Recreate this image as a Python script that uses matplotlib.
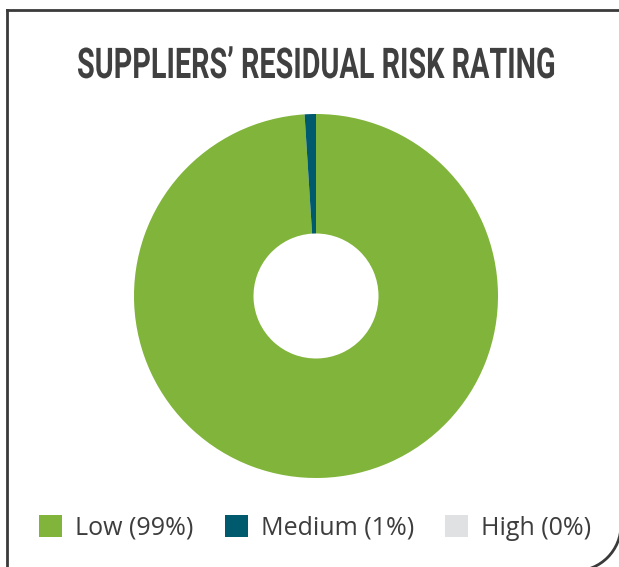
import matplotlib
matplotlib.use('Agg')
import matplotlib.pyplot as plt
from matplotlib.patches import Arc
from matplotlib.patheffects import AbstractPathEffect
from matplotlib.transforms import Affine2D

# Data
categories = ['Low', 'Medium', 'High']
shares = [99, 1, 0]
colors = ['#80B43A', '#005A6E', '#E0E1E3']
title = 'SUPPLIERS\u2019 RESIDUAL RISK RATING'

TEXT = '#3D3D3D'
W, H = 619, 567


class Stretch(AbstractPathEffect):
    """Rescale glyphs around a fixed anchor (display px) to mimic a condensed face."""
    def __init__(self, cx, cy, sx, sy):
        super().__init__()
        self.cx, self.cy, self.sx, self.sy = cx, cy, sx, sy

    def draw_path(self, renderer, gc, tpath, affine, rgbFace=None):
        tr = (Affine2D().translate(-self.cx, -self.cy)
              .scale(self.sx, self.sy).translate(self.cx, self.cy))
        renderer.draw_path(gc, tpath, affine + tr, rgbFace)


fig = plt.figure(figsize=(W / 100, H / 100), dpi=100)
fig.patch.set_facecolor('white')

# frame drawn in pixel units (y downwards)
bg = fig.add_axes([0, 0, 1, 1])
bg.set_xlim(0, W)
bg.set_ylim(H, 0)
bg.axis('off')
bg.plot([7, W + 5], [10, 10], color='#3A3A3A', lw=2.0, solid_capstyle='projecting')
bg.plot([7, 7], [10, H + 5], color='#3A3A3A', lw=2.0, solid_capstyle='projecting')
bg.add_patch(Arc((575, 525), 92, 92, theta1=0, theta2=90, color='#3A3A3A', lw=2.0))

# donut: centre (316, 296) px, outer radius 182 px
r = 182
cx, cy = 316, H - 296
side = 2.5 * r
ax = fig.add_axes([(cx - side / 2) / W, (cy - side / 2) / H, side / W, side / H])
wedges, _ = ax.pie(shares, colors=colors, startangle=90, counterclock=False,
                   wedgeprops=dict(width=1 - 62.5 / r, linewidth=0))

# title (condensed look: drawn smaller, then stretched to 30.5pt cap height)
fs = 22
t = fig.text(316 / W, (H - 78) / H, title, ha='center', va='baseline',
             fontsize=fs, fontweight='bold', color='#404040',
             family=['Liberation Sans Narrow', 'Roboto', 'DejaVu Sans'])
fig.canvas.draw()
tw = t.get_window_extent().width
t.set_path_effects([Stretch(316, H - 78, 478 / tw, 30.5 / fs)])

# legend
labels = [f'{c} ({v}%)' for c, v in zip(categories, shares)]
fig.legend(wedges, labels, loc='center left', bbox_to_anchor=(39 / W, (H - 528) / H),
           ncol=3, frameon=False, prop=dict(family='Open Sans', size=18),
           labelcolor=TEXT, handlelength=0.92, handleheight=0.92,
           handletextpad=0.52, columnspacing=1.25, borderpad=0, borderaxespad=0)

plt.savefig('out.png', dpi=100, facecolor='white')
